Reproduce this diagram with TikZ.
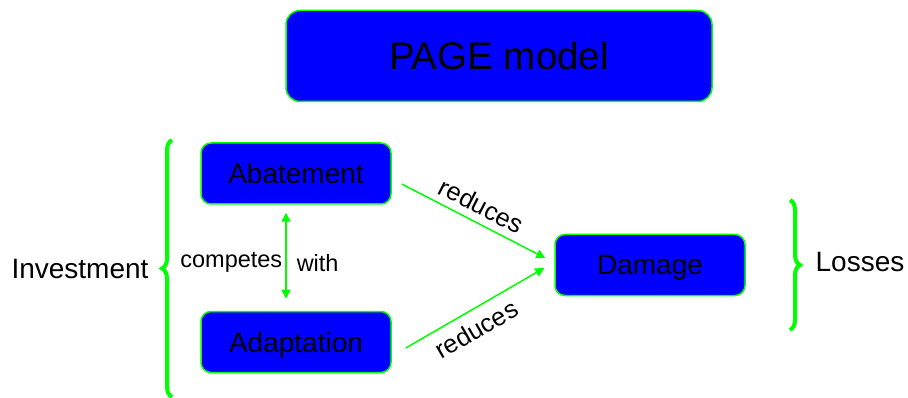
\documentclass[tikz,border=0pt]{standalone}
\usepackage{fontspec}
\setmainfont{Liberation Sans}
\usetikzlibrary{arrows.meta,calc,positioning,decorations.pathreplacing}
\definecolor{boxblue}{HTML}{0000FF}
\definecolor{linegreen}{HTML}{00FF00}

\begin{document}
\begin{tikzpicture}[>={Triangle[length=9pt,width=9pt]},x=1pt,y=-1pt,line width=1.5pt]
    \tikzstyle{bbox}=[draw=linegreen,fill=boxblue,rounded corners=10pt,minimum width=190pt,minimum height=61pt,align=center,text depth=0pt,font=\fontsize{28}{33}\selectfont]
    \tikzstyle{lbl}=[text depth=0pt,font=\fontsize{28}{33}\selectfont]
    \tikzstyle{alink}=[->,draw=linegreen]
    \tikzstyle{brc}=[draw=linegreen,line width=4pt,decorate,decoration={brace,amplitude=10pt}]
    \useasboundingbox (0,0) rectangle (908,398);
    \node[bbox,minimum width=426pt,minimum height=91pt,rounded corners=14pt,font=\fontsize{38.5}{46}\selectfont] (page) at (499,56) {PAGE model};
    \node[bbox] (abate) at (296,173.5) {Abatement};
    \node[bbox,below=106pt of abate] (adapt) {Adaptation};
    \node[bbox] (dmg) at (650,265) {Damage};
    \node[lbl] (inv) at (80,269) {Investment};
    \node[lbl] (loss) at (860,262) {Losses};
    % braces
    \draw[brc] (172,397) -- (172,140);
    \draw[brc] (790,200) -- (790,330);
    % links
    \draw[<->,draw=linegreen] ($(abate.south)+(-10,8)$) -- ($(adapt.north)+(-10,-12)$)
      node[midway,left,inner sep=3pt,yshift=-7pt,font=\fontsize{23.5}{28}\selectfont] {competes}
      node[midway,right,inner sep=10pt,yshift=-7pt,font=\fontsize{23.5}{28}\selectfont] {with};
    \draw[alink] ($(abate.east)+(10,10.5)$) -- ($(dmg.west)+(-9,-7)$)
      node[pos=0.5,above,sloped,inner sep=7pt,font=\fontsize{25.5}{30}\selectfont] {reduces};
    \draw[alink] ($(adapt.east)+(14,6)$) -- ($(dmg.west)+(-10,3)$)
      node[pos=0.44,below,sloped,inner sep=9pt,font=\fontsize{25.5}{30}\selectfont] {reduces};
\end{tikzpicture}
\end{document}
